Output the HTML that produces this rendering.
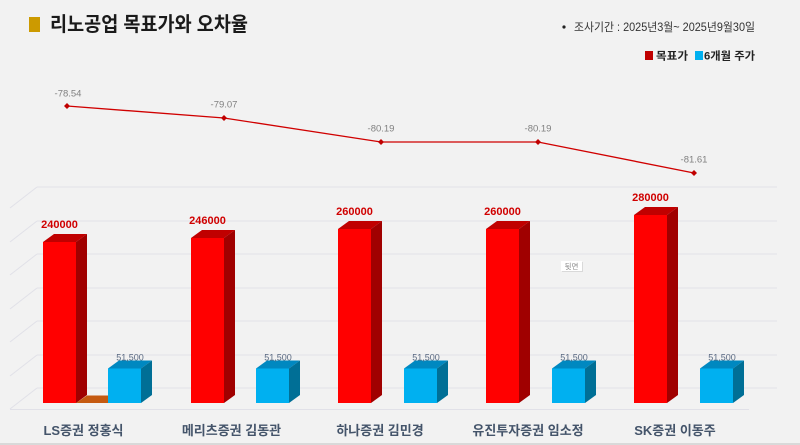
<!DOCTYPE html>
<html><head><meta charset="utf-8">
<style>
html,body{margin:0;padding:0;background:#f2f2f2;}
svg{display:block;}
text{font-family:"Liberation Sans","Noto Sans CJK KR",sans-serif;}
</style></head>
<body>
<svg width="800" height="445" viewBox="0 0 800 445" xmlns="http://www.w3.org/2000/svg">
<rect x="0" y="0" width="800" height="445" fill="#f2f2f2"/>
<rect x="0" y="443" width="800" height="2" fill="#d9d9d9"/>

<!-- title -->
<rect x="29" y="17" width="11" height="15" fill="#cc9a00"/>
<text x="50" y="31" font-size="20" font-weight="bold" fill="#1a1a1a" textLength="198" lengthAdjust="spacingAndGlyphs">리노공업 목표가와 오차율</text>

<!-- subtitle -->
<circle cx="564" cy="27" r="1.6" fill="#222"/>
<text x="574" y="31" font-size="11.5" fill="#333" textLength="181" lengthAdjust="spacingAndGlyphs">조사기간 : 2025년3월~ 2025년9월30일</text>

<!-- legend -->
<rect x="645" y="51" width="8" height="9" fill="#c00000"/>
<text x="656" y="59.5" font-size="11" font-weight="bold" fill="#222" textLength="32" lengthAdjust="spacingAndGlyphs">목표가</text>
<rect x="695" y="51" width="8" height="9" fill="#00b0f0"/>
<text x="704" y="59.5" font-size="11" font-weight="bold" fill="#222" textLength="51" lengthAdjust="spacingAndGlyphs">6개월 주가</text>

<!-- gridlines -->
<g stroke="#e1e1e8" stroke-width="1" fill="none">
<line x1="37" y1="187" x2="777" y2="187"/>
<line x1="37" y1="221" x2="777" y2="221"/>
<line x1="37" y1="254" x2="777" y2="254"/>
<line x1="37" y1="288" x2="777" y2="288"/>
<line x1="37" y1="321" x2="777" y2="321"/>
<line x1="37" y1="355" x2="777" y2="355"/>
<line x1="37" y1="388" x2="777" y2="388"/>
<line x1="10" y1="208" x2="37" y2="187"/>
<line x1="10" y1="242" x2="37" y2="221"/>
<line x1="10" y1="275" x2="37" y2="254"/>
<line x1="10" y1="309" x2="37" y2="288"/>
<line x1="10" y1="342" x2="37" y2="321"/>
<line x1="10" y1="376" x2="37" y2="355"/>
<line x1="10" y1="409" x2="37" y2="388"/>
<line x1="10" y1="409.5" x2="749" y2="409.5"/>
</g>

<!-- orange floor piece (LS) -->
<polygon points="76,403 108,403 108,395.5 87,395.5" fill="#c55a11"/>

<!-- bars -->
<g id="bars">
<!-- group 0 -->
<polygon points="43,242 76,242 87,234 54,234" fill="#c00000"/>
<polygon points="76,242 87,234 87,395 76,403" fill="#a00000"/>
<rect x="43" y="242" width="33" height="161" fill="#ff0000"/>
<polygon points="108,368.5 141,368.5 152,360.5 119,360.5" fill="#0088c0"/>
<polygon points="141,368.5 152,360.5 152,395 141,403" fill="#006f96"/>
<rect x="108" y="368.5" width="33" height="34.5" fill="#00b0f0"/>
<!-- group 1 -->
<polygon points="191,238 224,238 235,230 202,230" fill="#c00000"/>
<polygon points="224,238 235,230 235,395 224,403" fill="#a00000"/>
<rect x="191" y="238" width="33" height="165" fill="#ff0000"/>
<polygon points="256,368.5 289,368.5 300,360.5 267,360.5" fill="#0088c0"/>
<polygon points="289,368.5 300,360.5 300,395 289,403" fill="#006f96"/>
<rect x="256" y="368.5" width="33" height="34.5" fill="#00b0f0"/>
<!-- group 2 -->
<polygon points="338,229 371,229 382,221 349,221" fill="#c00000"/>
<polygon points="371,229 382,221 382,395 371,403" fill="#a00000"/>
<rect x="338" y="229" width="33" height="174" fill="#ff0000"/>
<polygon points="404,368.5 437,368.5 448,360.5 415,360.5" fill="#0088c0"/>
<polygon points="437,368.5 448,360.5 448,395 437,403" fill="#006f96"/>
<rect x="404" y="368.5" width="33" height="34.5" fill="#00b0f0"/>
<!-- group 3 -->
<polygon points="486,229 519,229 530,221 497,221" fill="#c00000"/>
<polygon points="519,229 530,221 530,395 519,403" fill="#a00000"/>
<rect x="486" y="229" width="33" height="174" fill="#ff0000"/>
<polygon points="552,368.5 585,368.5 596,360.5 563,360.5" fill="#0088c0"/>
<polygon points="585,368.5 596,360.5 596,395 585,403" fill="#006f96"/>
<rect x="552" y="368.5" width="33" height="34.5" fill="#00b0f0"/>
<!-- group 4 -->
<polygon points="634,215 667,215 678,207 645,207" fill="#c00000"/>
<polygon points="667,215 678,207 678,395 667,403" fill="#a00000"/>
<rect x="634" y="215" width="33" height="188" fill="#ff0000"/>
<polygon points="700,368.5 733,368.5 744,360.5 711,360.5" fill="#0088c0"/>
<polygon points="733,368.5 744,360.5 744,395 733,403" fill="#006f96"/>
<rect x="700" y="368.5" width="33" height="34.5" fill="#00b0f0"/>
</g>

<!-- red value labels -->
<g font-size="11" font-weight="bold" fill="#d00000" text-anchor="middle">
<text x="59.5" y="228">240000</text>
<text x="207.5" y="224">246000</text>
<text x="354.5" y="215">260000</text>
<text x="502.5" y="215">260000</text>
<text x="650.5" y="201">280000</text>
</g>

<!-- blue value labels -->
<g font-size="9" fill="#5a6a82" text-anchor="middle">
<text x="130" y="360.5">51,500</text>
<text x="278" y="360.5">51,500</text>
<text x="426" y="360.5">51,500</text>
<text x="574" y="360.5">51,500</text>
<text x="722" y="360.5">51,500</text>
</g>

<!-- tooltip -->
<rect x="562" y="262" width="21" height="10" fill="#c8c8c8" opacity="0.6"/>
<rect x="561" y="261" width="21" height="10" fill="#ffffff"/>
<text x="571.5" y="269" font-size="7.5" fill="#888" text-anchor="middle">뒷면</text>

<!-- line series -->
<polyline points="67,106 224,118 381,142 538,142 694,173" fill="none" stroke="#d00000" stroke-width="1.3"/>
<g fill="#c00000">
<polygon points="67,103 70,106 67,109 64,106"/>
<polygon points="224,115 227,118 224,121 221,118"/>
<polygon points="381,139 384,142 381,145 378,142"/>
<polygon points="538,139 541,142 538,145 535,142"/>
<polygon points="694,170 697,173 694,176 691,173"/>
</g>
<g font-size="9.5" fill="#808080" text-anchor="middle">
<text x="68" y="96.5">-78.54</text>
<text x="224" y="107.5">-79.07</text>
<text x="381" y="131.5">-80.19</text>
<text x="538" y="131.5">-80.19</text>
<text x="694" y="162.5">-81.61</text>
</g>

<!-- category labels -->
<g font-size="13" font-weight="bold" fill="#44546a" text-anchor="middle">
<text x="83.5" y="435">LS증권 정홍식</text>
<text x="231.5" y="435">메리츠증권 김동관</text>
<text x="380" y="435">하나증권 김민경</text>
<text x="528" y="435">유진투자증권 임소정</text>
<text x="675" y="435">SK증권 이동주</text>
</g>
</svg>
</body></html>
